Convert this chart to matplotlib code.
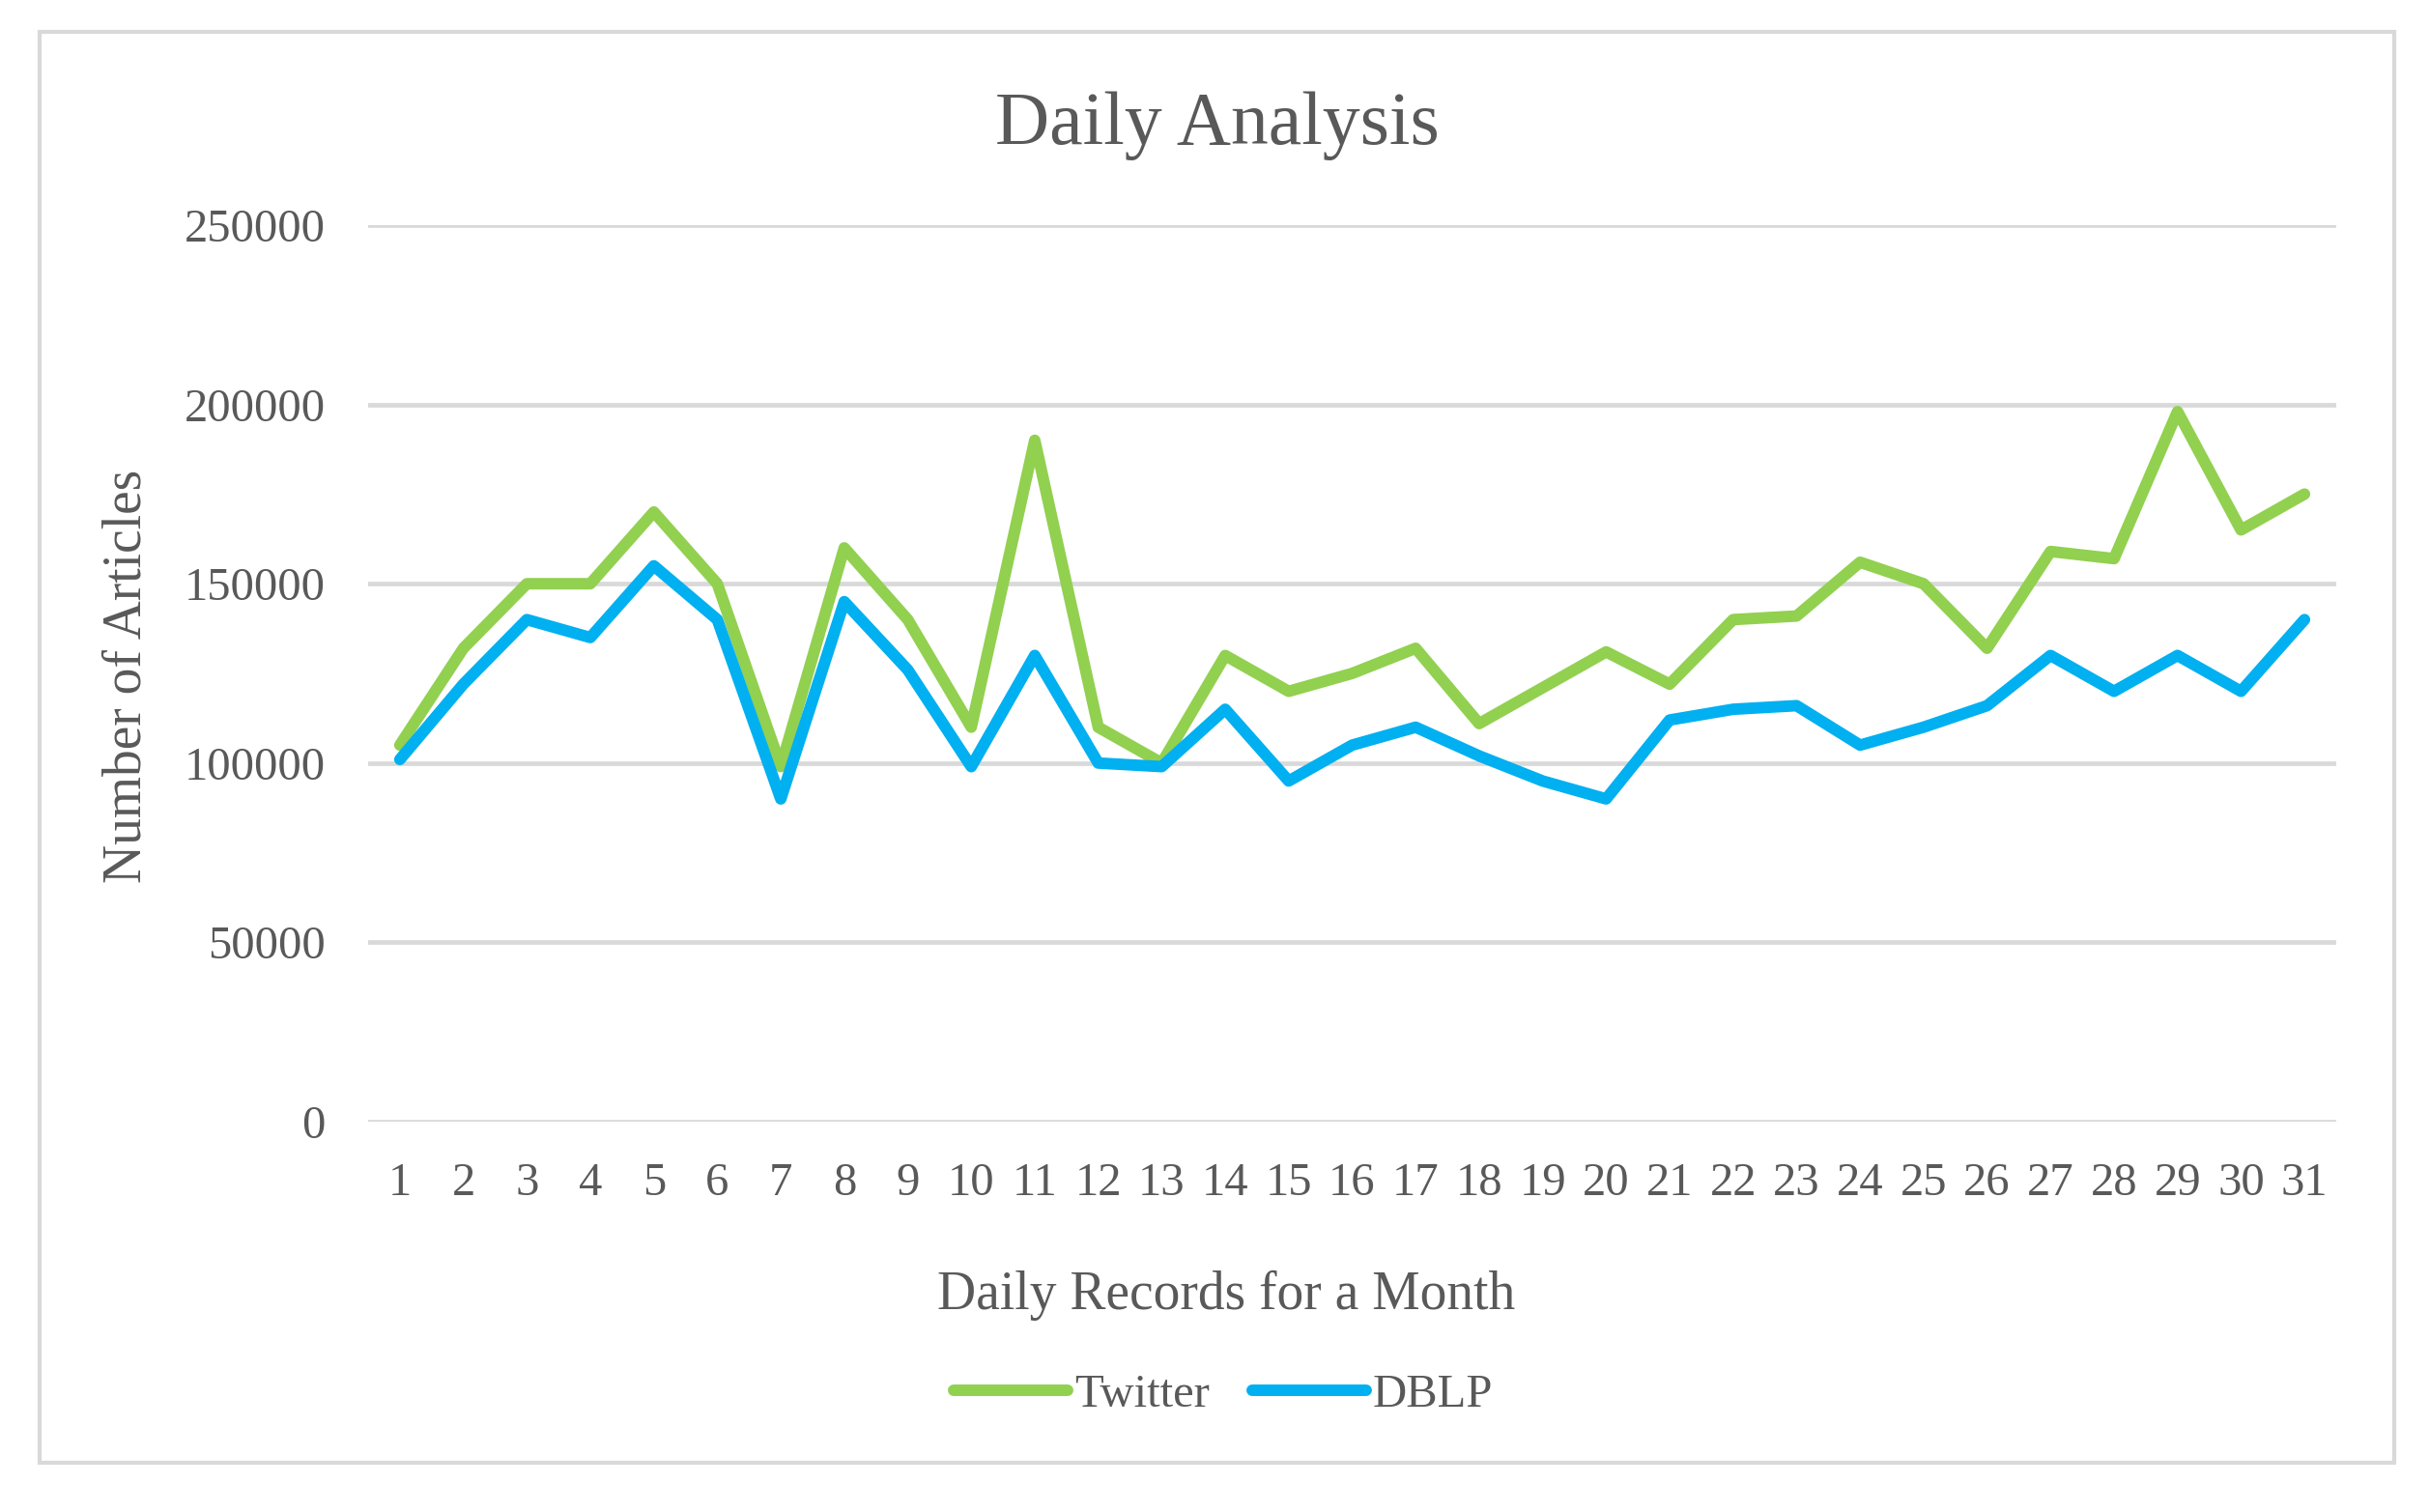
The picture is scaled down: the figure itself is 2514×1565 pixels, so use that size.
import matplotlib
matplotlib.use("Agg")
import matplotlib.pyplot as plt
from matplotlib.patches import Rectangle

days = list(range(1, 32))
twitter = [105000, 132000, 150000, 150000, 170000, 150000, 99000, 160000, 140000, 110000,
           190000, 110000, 100000, 130000, 120000, 125000, 132000, 111000, 121000, 131000,
           122000, 140000, 141000, 156000, 150000, 132000, 159000, 157000, 198000, 165000, 175000]
dblp = [101000, 122000, 140000, 135000, 155000, 140000, 90000, 145000, 126000, 99000,
        130000, 100000, 99000, 115000, 95000, 105000, 110000, 102000, 95000, 90000,
        112000, 115000, 116000, 105000, 110000, 116000, 130000, 120000, 130000, 120000, 140000]
y_ticks = [0, 50000, 100000, 150000, 200000, 250000]

W, H = 2514, 1565
TXT = "#595959"
GRID = "#D9D9D9"
plt.rcParams['font.family'] = ['Liberation Serif', 'DejaVu Serif']

fig = plt.figure(figsize=(W / 100, H / 100), dpi=100)
ax = fig.add_axes([381 / W, (H - 1161) / H, (2418 - 381) / W, (1161 - 233) / H])

ax.plot(days, twitter, color="#92D050", lw=8.6, solid_capstyle='round',
        solid_joinstyle='round', label="Twitter", zorder=3)
ax.plot(days, dblp, color="#00B0F0", lw=8.6, solid_capstyle='round',
        solid_joinstyle='round', label="DBLP", zorder=3)

ax.set_xlim(0.5, 31.5)
ax.set_ylim(0, 250000)
ax.set_xticks(days)
ax.set_xticklabels([str(d) for d in days])
ax.set_yticks(y_ticks)
ax.set_yticklabels([str(v) for v in y_ticks])
ax.yaxis.grid(True, color=GRID, lw=3.4)
ax.set_axisbelow(True)
for s in ax.spines.values():
    s.set_visible(False)
ax.tick_params(axis='both', length=0, labelsize=35, labelcolor=TXT)
ax.tick_params(axis='x', pad=30)
ax.tick_params(axis='y', pad=32)

fig.text(1260 / W, 1 - 130 / H, "Daily Analysis", ha='center', va='center',
         fontsize=56, color=TXT)
fig.text(1269 / W, 1 - 1341 / H, "Daily Records for a Month", ha='center', va='center',
         fontsize=40, color=TXT)
fig.text(132 / W, 1 - 700 / H, "Number of Articles", ha='center', va='center',
         rotation=90, fontsize=40, color=TXT)

leg = fig.legend(loc='center', bbox_to_anchor=(1266 / W, 1 - 1444 / H), ncol=2,
                 frameon=False, fontsize=35, handlelength=2.43, handletextpad=0.15,
                 columnspacing=0.9, borderpad=0)
for t in leg.get_texts():
    t.set_color(TXT)

fig.add_artist(Rectangle((41 / W, (H - 1514) / H), (2478 - 41) / W, (1514 - 33) / H,
                         transform=fig.transFigure, fill=False, ec=GRID, lw=3))

fig.savefig("out.png", dpi=100, facecolor='white')
